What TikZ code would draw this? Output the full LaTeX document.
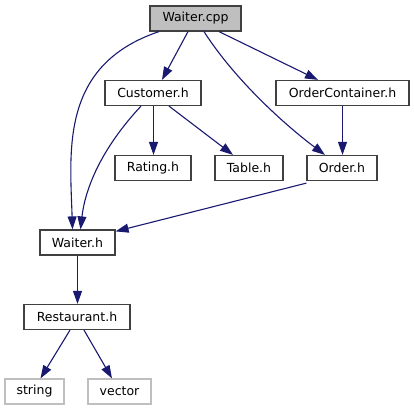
\documentclass[tikz,border=0pt]{standalone}
\usepackage{fontspec}
\setmainfont{DejaVu Sans}
\usetikzlibrary{arrows.meta}
\definecolor{edgecol}{HTML}{191970}
\definecolor{boxcol}{HTML}{404040}
\definecolor{extcol}{HTML}{BFBFBF}
\tikzset{
  fbox/.style={draw=boxcol, line width=1.2pt, fill=white, rectangle, minimum height=25pt, inner sep=0pt, font=\fontsize{12.5}{14}\selectfont, text=black},
  rootbox/.style={fbox, fill=extcol},
  extbox/.style={fbox, draw=extcol},
  dep/.style={draw=edgecol, line width=1.1pt, -{Triangle[length=13pt,width=9pt]}, edgecol},
}
\begin{document}
\begin{tikzpicture}[x=1pt,y=-1pt]
\useasboundingbox (0,0) rectangle (414,411);
\node[rootbox, minimum width=91pt] (wcpp) at (195.5,18.5) {Waiter.cpp};
\node[fbox, minimum width=96pt] (cust) at (153,93) {Customer.h};
\node[fbox, minimum width=133pt] (oc) at (342.5,93) {OrderContainer.h};
\node[fbox, minimum width=76pt] (rating) at (153,168) {Rating.h};
\node[fbox, minimum width=68pt] (table) at (249,168) {Table.h};
\node[fbox, minimum width=70pt] (order) at (342,168) {Order.h};
\node[fbox, minimum width=75pt] (waiterh) at (77.5,242.5) {Waiter.h};
\node[fbox, minimum width=106pt] (rest) at (77,317) {Restaurant.h};
\node[extbox, minimum width=59pt] (string) at (34.5,391.5) {string};
\node[extbox, minimum width=63pt] (vector) at (119.5,391.5) {vector};

\draw[dep] ([xshift=-7.5pt]wcpp.south) -- ([xshift=9pt]cust.north);
\draw[dep] ([xshift=-36.5pt]wcpp.south) .. controls (60,65) and (70,150) .. ([xshift=-5pt]waiterh.north);
\draw[dep] ([xshift=8.5pt]wcpp.south) .. controls (235,80) and (285,125) .. ([xshift=-17pt]order.north);
\draw[dep] ([xshift=23.5pt]wcpp.south) -- ([xshift=-24.5pt]oc.north);
\draw[dep] (oc.south) -- (oc.south |- order.north);
\draw[dep] ([xshift=0.5pt]cust.south) -- ([xshift=0.5pt]rating.north);
\draw[dep] ([xshift=16pt]cust.south) -- ([xshift=-16pt]table.north);
\draw[dep] ([xshift=-12pt]cust.south) .. controls (100,150) and (85,190) .. ([xshift=3pt]waiterh.north);
\draw[dep] ([yshift=-2pt]order.south west) -- ([yshift=-2pt]waiterh.north east);
\draw[dep] (waiterh.south) -- (waiterh.south |- rest.north);
\draw[dep] ([xshift=-7pt]rest.south) -- ([xshift=6pt]string.north);
\draw[dep] ([xshift=7pt]rest.south) -- ([xshift=-7.5pt]vector.north);
\end{tikzpicture}
\end{document}
